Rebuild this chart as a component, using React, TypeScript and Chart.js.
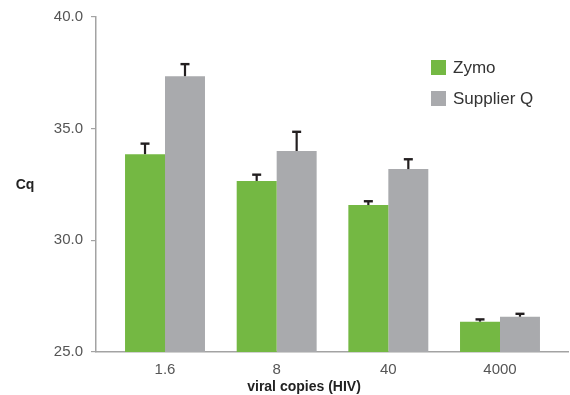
import React, { useEffect, useRef } from "react";
import { Chart, registerables } from "chart.js";

Chart.register(...registerables);

const categories = ["1.6", "8", "40", "4000"];
const zymoValues = [33.86, 32.66, 31.58, 26.36];
const zymoErrors = [0.47, 0.28, 0.17, 0.1];
const supplierValues = [37.35, 34.0, 33.19, 26.58];
const supplierErrors = [0.54, 0.86, 0.44, 0.13];
const yTicks = [25, 30, 35, 40];
const seriesNames = ["Zymo", "Supplier Q"];
const yTitle = "Cq";
const xTitle = "viral copies (HIV)";

const GREEN = "#74b843";
const GRAY = "#a9aaad";
const AXIS = "#a3a3a3";
const FONT = "'Liberation Sans', Arial, Helvetica, sans-serif";

const errorBarPlugin = {
  id: "errorBars",
  afterDatasetsDraw(chart: any) {
    const ctx = chart.ctx;
    const yScale = chart.scales.y;
    chart.data.datasets.forEach((ds: any, di: number) => {
      const meta = chart.getDatasetMeta(di);
      const errs: number[] = ds.errors || [];
      meta.data.forEach((bar: any, i: number) => {
        const v = ds.data[i].y;
        const e = errs[i];
        if (e == null) return;
        const yTop = yScale.getPixelForValue(v + e);
        const yBase = bar.y;
        ctx.save();
        ctx.strokeStyle = "#231f20";
        ctx.lineWidth = 2.2;
        ctx.beginPath();
        ctx.moveTo(bar.x, yBase);
        ctx.lineTo(bar.x, yTop);
        ctx.stroke();
        ctx.lineWidth = 2.4;
        ctx.beginPath();
        ctx.moveTo(bar.x - 4.5, yTop);
        ctx.lineTo(bar.x + 4.5, yTop);
        ctx.stroke();
        ctx.restore();
      });
    });
  },
};

const decorPlugin = {
  id: "decor",
  afterDraw(chart: any) {
    const ctx = chart.ctx;
    const area = chart.chartArea;
    ctx.save();
    ctx.fillStyle = "#222222";
    ctx.font = `bold 14px ${FONT}`;
    ctx.textAlign = "center";
    ctx.textBaseline = "middle";
    ctx.fillText(yTitle, area.left - 71, (area.top + area.bottom) / 2 + 1);
    ctx.fillText(xTitle, area.left + 208, area.bottom + 35);
    ctx.font = `17px ${FONT}`;
    ctx.textAlign = "left";
    chart.data.datasets.forEach((ds: any, i: number) => {
      const sx = area.right - 137;
      const sy = area.top + 43 + i * 31;
      ctx.fillStyle = ds.backgroundColor;
      ctx.fillRect(sx, sy, 15, 15);
      ctx.fillStyle = "#333333";
      ctx.fillText(ds.label, sx + 22, sy + 8);
    });
    ctx.restore();
  },
};

export default function App() {
  const canvasRef = useRef<HTMLCanvasElement | null>(null);

  useEffect(() => {
    document.body.style.margin = "0";
    const canvas = canvasRef.current;
    if (!canvas) return;
    const chart = new Chart(canvas, {
      type: "bar",
      data: {
        datasets: [
          {
            label: seriesNames[0],
            data: zymoValues.map((y, i) => ({ x: i, y })),
            backgroundColor: GREEN,
            borderWidth: 0,
            errors: zymoErrors,
          } as any,
          {
            label: seriesNames[1],
            data: supplierValues.map((y, i) => ({ x: i, y })),
            backgroundColor: GRAY,
            borderWidth: 0,
            errors: supplierErrors,
          } as any,
        ],
      },
      options: {
        animation: false,
        responsive: true,
        maintainAspectRatio: false,
        layout: { padding: { top: 17, right: 2, left: 0, bottom: 0 } },
        datasets: {
          bar: { categoryPercentage: 0.716, barPercentage: 1 },
        },
        plugins: {
          legend: { display: false },
          tooltip: { enabled: false },
        },
        scales: {
          x: {
            type: "linear",
            offset: false,
            min: -0.618,
            max: 3.609,
            afterBuildTicks: (s: any) => {
              s.ticks = categories.map((_, i) => ({ value: i }));
            },
            afterFit: (s: any) => {
              s.height = 43;
            },
            grid: { display: false, drawTicks: false, tickLength: 0, offset: false },
            border: { display: true, color: AXIS, width: 1.5 },
            ticks: {
              padding: 9,
              color: "#555555",
              font: { family: FONT, size: 15 },
              maxRotation: 0,
              autoSkip: false,
              callback: (v: any) => categories[Math.round(Number(v))] ?? "",
            },
          },
          y: {
            type: "linear",
            min: 25,
            max: 40,
            afterBuildTicks: (s: any) => {
              s.ticks = yTicks.map((v) => ({ value: v }));
            },
            afterFit: (s: any) => {
              s.width = 96;
            },
            grid: {
              display: true,
              drawOnChartArea: false,
              drawTicks: true,
              tickLength: 5,
              color: AXIS,
              lineWidth: 1.2,
            },
            border: { display: true, color: AXIS, width: 1.5 },
            ticks: {
              padding: 8,
              color: "#555555",
              font: { family: FONT, size: 15 },
              callback: (v: any) => Number(v).toFixed(1),
            },
          },
        },
      } as any,
      plugins: [errorBarPlugin, decorPlugin],
    });
    return () => chart.destroy();
  }, []);

  return (
    <div style={{ position: "relative", width: 570, height: 395, background: "#ffffff" }}>
      <canvas ref={canvasRef} />
    </div>
  );
}
